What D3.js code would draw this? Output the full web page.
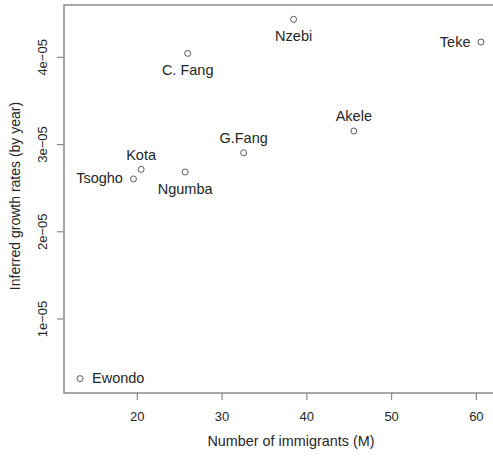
<!DOCTYPE html>
<html>
<head>
<meta charset="utf-8">
<script src="https://cdn.jsdelivr.net/npm/d3@7"></script>
<style>
  html, body { margin: 0; padding: 0; background: #fff; }
  svg { display: block; }
  text { font-family: "Liberation Sans", Arial, Helvetica, sans-serif; fill: #262626; }
</style>
</head>
<body>
<svg id="chart" width="493" height="456"></svg>
<script>
// Populations: number of immigrants vs inferred growth rate
const groups     = ["Nzebi", "Teke", "C. Fang", "Akele", "G.Fang", "Kota", "Tsogho", "Ngumba", "Ewondo"];
const immigrants = [38.5, 60.6, 26.0, 45.6, 32.6, 20.5, 19.6, 25.7, 13.3];
const growth     = [4.43e-5, 4.17e-5, 4.04e-5, 3.15e-5, 2.90e-5, 2.71e-5, 2.60e-5, 2.68e-5, 3.1e-6];
// label side relative to the point (R's text pos: 1 below, 2 left, 3 above, 4 right)
const labelPos   = [1, 2, 1, 3, 3, 3, 2, 1, 4];
const xTicks = [20, 30, 40, 50, 60];
const yTicks = [1e-5, 2e-5, 3e-5, 4e-5];
const yTickLabels = ["1e\u221205", "2e\u221205", "3e\u221205", "4e\u221205"];

const svg = d3.select("#chart");
const margin = { left: 64, top: 5, bottom: 63 };
const plotRight = 497;
const H = 456;

// 4% padding on each side, as in base R plots
function padded(vals) {
  const [a, b] = d3.extent(vals);
  const p = (b - a) * 0.04;
  return [a - p, b + p];
}

const x = d3.scaleLinear().domain(padded(immigrants)).range([margin.left, plotRight]);
const y = d3.scaleLinear().domain(padded(growth)).range([H - margin.bottom, margin.top]);

const axisColor = "#8a8a8a";
const fontFam = '"Liberation Sans", Arial, sans-serif';

// plot box
svg.append("rect")
  .attr("x", margin.left).attr("y", margin.top)
  .attr("width", plotRight - margin.left)
  .attr("height", H - margin.bottom - margin.top)
  .attr("fill", "none").attr("stroke", axisColor).attr("stroke-width", 1.5);

// x axis
const xAxis = svg.append("g")
  .attr("transform", `translate(0,${H - margin.bottom})`)
  .call(d3.axisBottom(x).tickValues(xTicks).tickSize(7).tickPadding(12).tickFormat(d3.format("d")));
xAxis.select(".domain").remove();
xAxis.selectAll("line").attr("stroke", axisColor).attr("stroke-width", 1.2);
xAxis.selectAll("text").attr("font-size", 13).attr("fill", "#262626").style("font-family", fontFam);

// y axis (labels parallel to the axis)
const yAxis = svg.append("g")
  .attr("transform", `translate(${margin.left},0)`)
  .call(d3.axisLeft(y).tickValues(yTicks).tickSize(7).tickFormat((d, i) => yTickLabels[i]));
yAxis.select(".domain").remove();
yAxis.selectAll("line").attr("stroke", axisColor).attr("stroke-width", 1.2);
yAxis.selectAll(".tick text")
  .attr("x", null)
  .attr("text-anchor", "middle")
  .attr("transform", "translate(-22,0) rotate(-90)")
  .attr("dy", "0.35em")
  .attr("font-size", 13).attr("fill", "#262626").style("font-family", fontFam);

// axis titles
svg.append("text")
  .attr("x", 291).attr("y", 446)
  .attr("text-anchor", "middle").attr("font-size", 14.4)
  .text("Number of immigrants (M)");
svg.append("text")
  .attr("transform", "translate(20,196) rotate(-90)")
  .attr("text-anchor", "middle").attr("font-size", 14)
  .text("Inferred growth rates (by year)");

const data = groups.map((g, i) => ({ g, x: immigrants[i], y: growth[i], pos: labelPos[i] }));

// points
svg.append("g").selectAll("circle").data(data).join("circle")
  .attr("cx", d => x(d.x)).attr("cy", d => y(d.y)).attr("r", 3)
  .attr("fill", "none").attr("stroke", "#5a5a5a").attr("stroke-width", 1);

// labels
svg.append("g").selectAll("text").data(data).join("text")
  .attr("font-size", 14.5)
  .attr("x", d => x(d.x) + (d.pos === 2 ? -10.5 : d.pos === 4 ? 12 : 0))
  .attr("y", d => y(d.y) + (d.pos === 1 ? 22 : d.pos === 3 ? -9.5 : 4.5))
  .attr("text-anchor", d => d.pos === 2 ? "end" : d.pos === 4 ? "start" : "middle")
  .text(d => d.g);
</script>
</body>
</html>
